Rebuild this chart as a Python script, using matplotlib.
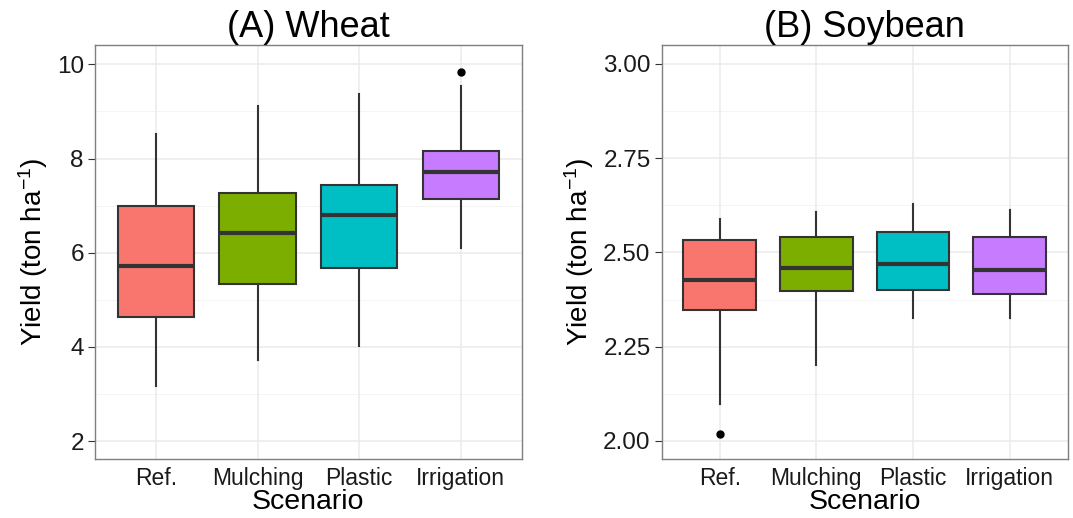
import matplotlib
matplotlib.use('Agg')
import matplotlib.pyplot as plt
import numpy as np

plt.rcParams['font.family'] = ['Liberation Sans', 'DejaVu Sans']
plt.rcParams['mathtext.fontset'] = 'custom'
plt.rcParams['mathtext.rm'] = 'Liberation Sans'
plt.rcParams['mathtext.default'] = 'regular'

scenarios = ['Ref.', 'Mulching', 'Plastic', 'Irrigation']
colors = ['#F8766D', '#7CAE00', '#00BFC4', '#C77CFF']

# wheat: whisker low, Q1, median, Q3, whisker high
wheat_low = [3.18, 3.72, 4.02, 6.11]
wheat_q1 = [4.63, 5.34, 5.68, 7.13]
wheat_med = [5.72, 6.41, 6.80, 7.72]
wheat_q3 = [6.99, 7.27, 7.44, 8.17]
wheat_high = [8.51, 9.11, 9.38, 9.55]
wheat_out = [[], [], [], [9.83]]

# soybean
soy_low = [2.098, 2.202, 2.326, 2.326]
soy_q1 = [2.347, 2.398, 2.399, 2.390]
soy_med = [2.427, 2.459, 2.468, 2.453]
soy_q3 = [2.532, 2.541, 2.554, 2.541]
soy_high = [2.588, 2.607, 2.629, 2.612]
soy_out = [[2.018], [], [], []]


def make_stats(low, q1, med, q3, high, out):
    stats = []
    for i in range(len(low)):
        stats.append({'whislo': low[i], 'q1': q1[i], 'med': med[i], 'q3': q3[i],
                      'whishi': high[i], 'fliers': out[i]})
    return stats


def draw_panel(ax, stats, title, ylim, yticks, yticklabels, minor):
    x = np.arange(1, len(scenarios) + 1)
    ax.set_axisbelow(True)
    for v in yticks:
        ax.axhline(v, color='#EBEBEB', lw=1.1, zorder=0)
    for v in minor:
        ax.axhline(v, color='#F4F4F4', lw=0.7, zorder=0)
    for v in x:
        ax.axvline(v, color='#EBEBEB', lw=1.1, zorder=0)
    bp = ax.bxp(stats, positions=x, widths=0.75, patch_artist=True, showcaps=False,
                boxprops=dict(edgecolor='#333333', linewidth=1.5),
                medianprops=dict(color='#333333', linewidth=3),
                whiskerprops=dict(color='#333333', linewidth=1.5),
                flierprops=dict(marker='o', markerfacecolor='black', markeredgecolor='black',
                                markersize=5))
    for patch, c in zip(bp['boxes'], colors):
        patch.set_facecolor(c)
    ax.set_xlim(0.4, 4.6)
    ax.set_ylim(*ylim)
    ax.set_yticks(yticks)
    ax.set_yticklabels(yticklabels)
    ax.set_xticks(x)
    ax.set_xticklabels(scenarios)
    ax.tick_params(axis='y', labelsize=17.5, length=5, color='#333333', labelcolor='#1a1a1a', pad=3)
    ax.tick_params(axis='x', labelsize=16.5, length=0, labelcolor='#1a1a1a', pad=6)
    for s in ax.spines.values():
        s.set_color('#7F7F7F')
        s.set_linewidth(1.0)
    ax.set_title(title, fontsize=26, pad=2)
    ax.set_xlabel('Scenario', fontsize=20.5, labelpad=-1)
    ax.set_ylabel(r'Yield (ton ha$^{-1}$)', fontsize=20, labelpad=5)


fig = plt.figure(figsize=(10.73, 5.18), dpi=100)
ax1 = fig.add_axes([0.0885, 0.1139, 0.3977, 0.7992])
ax2 = fig.add_axes([0.6167, 0.1139, 0.3783, 0.7992])

draw_panel(ax1, make_stats(wheat_low, wheat_q1, wheat_med, wheat_q3, wheat_high, wheat_out),
           '(A) Wheat', (1.62, 10.41), [2, 4, 6, 8, 10], ['2', '4', '6', '8', '10'],
           [3, 5, 7, 9])
draw_panel(ax2, make_stats(soy_low, soy_q1, soy_med, soy_q3, soy_high, soy_out),
           '(B) Soybean', (1.952, 3.05), [2.0, 2.25, 2.5, 2.75, 3.0],
           ['2.00', '2.25', '2.50', '2.75', '3.00'], [2.125, 2.375, 2.625, 2.875])

fig.savefig('out.png', dpi=100)
